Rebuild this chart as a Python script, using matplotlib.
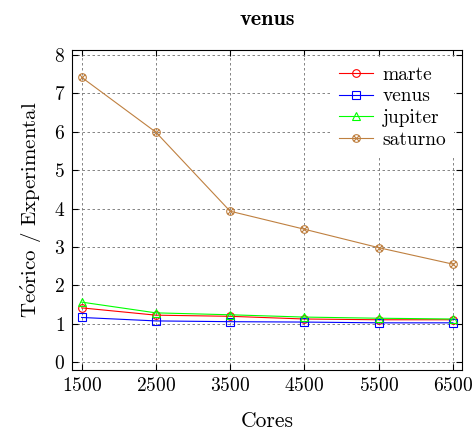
import numpy as np
import matplotlib
matplotlib.use("Agg")
import matplotlib.pyplot as plt
from matplotlib.path import Path

plt.rcParams["font.family"] = ["cmr10", "DejaVu Serif"]
plt.rcParams["axes.formatter.use_mathtext"] = True
plt.rcParams["mathtext.fontset"] = "cm"

cores = [1500, 2500, 3500, 4500, 5500, 6500]
marte = [1.41, 1.22, 1.19, 1.12, 1.10, 1.10]
venus = [1.16, 1.07, 1.05, 1.04, 1.02, 1.02]
jupiter = [1.56, 1.28, 1.23, 1.17, 1.14, 1.12]
saturno = [7.42, 5.99, 3.93, 3.46, 2.98, 2.55]

# circle with a cross inside (otimes)
d = np.sqrt(0.5)
otimes = Path.make_compound_path(
    Path.unit_circle(),
    Path([(-d, -d), (d, d)], [Path.MOVETO, Path.LINETO]),
    Path([(-d, d), (d, -d)], [Path.MOVETO, Path.LINETO]),
)

brown = (0.75, 0.5, 0.25)

fig = plt.figure(figsize=(4.72, 4.30), dpi=100)
ax = fig.add_axes([0.1525, 0.1395, 0.826, 0.744])

lw = 0.8
ms = 5.5
ax.plot(cores, marte, color="red", lw=lw, marker="o", ms=ms, mfc="none", mew=0.8, label="marte")
ax.plot(cores, venus, color="blue", lw=lw, marker="s", ms=ms, mfc="none", mew=0.8, label="venus")
ax.plot(cores, jupiter, color=(0, 1, 0), lw=lw, marker="^", ms=ms, mfc="none", mew=0.8, label="jupiter")
ax.plot(cores, saturno, color=brown, lw=lw, marker=otimes, ms=ms, mfc="none", mew=0.8, label="saturno")

ax.set_xlim(1370, 6621)
ax.set_ylim(-0.21, 8.13)
ax.set_xticks(cores)
ax.set_yticks(range(0, 9))
ax.tick_params(direction="in", top=True, right=True, labelsize=14, length=4, pad=5)
ax.grid(True, color="#707070", linestyle=(0, (3, 3)), lw=0.6)
for s in ax.spines.values():
    s.set_linewidth(0.8)

ax.set_title("venus", fontsize=16, fontfamily="cmb10", pad=18)
ax.set_xlabel("Cores", fontsize=15.5, labelpad=12)
ax.set_ylabel(r"Te$\mathrm{\acute{o}}$rico / Experimental", fontsize=15, labelpad=7)

leg = ax.legend(loc="upper right", fontsize=14, frameon=True, fancybox=False,
                edgecolor="none", framealpha=1, handlelength=1.75,
                handletextpad=0.5, borderaxespad=0.4, labelspacing=0.2)

fig.savefig("out.png", dpi=100)
